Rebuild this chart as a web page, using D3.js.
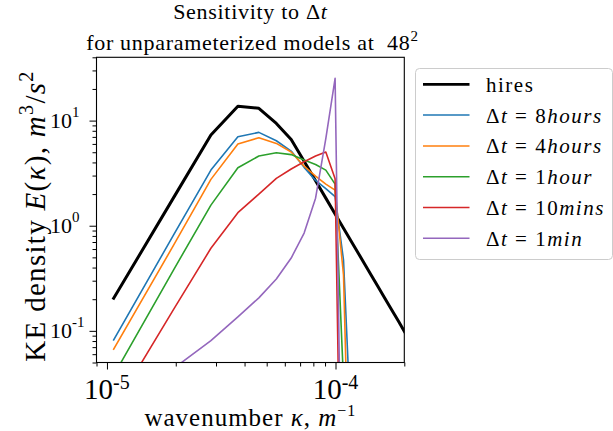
<!DOCTYPE html>
<html>
<head>
<meta charset="utf-8">
<script src="https://cdn.jsdelivr.net/npm/d3@7"></script>
<style>
  html, body { margin: 0; padding: 0; background: #fff; }
  svg { display: block; font-family: "Liberation Serif", "DejaVu Serif", serif; }
</style>
</head>
<body>
<svg id="chart" width="613" height="431"></svg>
<script>
// Isotropic wavenumber bins (1/m)
const kappa = [1.07e-5, 1.96e-5, 2.85e-5, 3.74e-5, 4.62e-5, 5.51e-5, 6.40e-5, 7.29e-5,
               8.18e-5, 9.07e-5, 9.96e-5, 1.084e-4, 1.173e-4, 1.262e-4, 1.351e-4, 1.440e-4,
               1.529e-4, 1.617e-4, 1.706e-4, 1.795e-4, 1.884e-4, 1.973e-4, 2.062e-4];

// KE spectra E(kappa), m^3/s^2
const hires  = [0.204, 1.86, 7.28, 13.7, 13.1, 9.4, 6.6, 4.1, 2.68, 1.83, 1.29, 0.946,
                0.708, 0.542, 0.421, 0.333, 0.267, 0.217, 0.178, 0.148, 0.124, 0.104, 0.0885];
const dt8h   = [0.0819, 0.823, 3.38, 7.02, 7.73, 6.43, 5.13, 3.59, 2.70, 2.25, 1.89, 0.472, 0.0097];
const dt4h   = [0.0668, 0.657, 2.76, 5.98, 6.87, 6.07, 5.02, 3.69, 2.97, 2.49, 2.18, 0.34, 0.0005];
const dt1h   = [0.0377, 0.383, 1.57, 3.56, 4.60, 4.94, 4.75, 4.21, 3.82, 3.38, 2.49, 0.0334, 0.001];
const dt10m  = [0.0181, 0.161, 0.610, 1.33, 2.0, 2.82, 3.46, 4.06, 4.60, 5.02, 2.80, 0.00004, 0.000001];
const dt1m   = [0.014, 0.044, 0.0807, 0.136, 0.206, 0.311, 0.493, 0.852, 1.83, 6.74, 25.2, 0.0001, 0.000001];

// Legend labels: number | italic unit
const seriesNames = ["hires", "8|hours", "4|hours", "1|hour", "10|mins", "1|min"];
const seriesColors = ["#000000", "#1f77b4", "#ff7f0e", "#2ca02c", "#d62728", "#9467bd"];
const seriesWidths = [3, 1.6, 1.6, 1.6, 1.6, 1.6];
const seriesData = [hires, dt8h, dt4h, dt1h, dt10m, dt1m];

// Tick values
const xMajor = [1e-5, 1e-4];
const xMajorExp = ["-5", "-4"];
const xMinor = [9e-6, 2e-5, 3e-5, 4e-5, 5e-5, 6e-5, 7e-5, 8e-5, 9e-5, 2e-4];
const yMajor = [0.1, 1, 10];
const yMajorExp = ["-1", "0", "1"];
const yMinor = [0.05, 0.06, 0.07, 0.08, 0.09, 0.2, 0.3, 0.4, 0.5, 0.6, 0.7, 0.8, 0.9,
                2, 3, 4, 5, 6, 7, 8, 9, 20, 30, 40];

const svg = d3.select("#chart");
const pLeft = 96.5, pRight = 404.3, pTop = 57.3, pBottom = 362.5;

const x = d3.scaleLog().domain([9e-6, 2e-4]).range([pLeft, pRight]);
const y = d3.scaleLog().domain([0.05, 40]).range([pBottom, pTop]);

svg.append("rect").attr("width", 613).attr("height", 431).attr("fill", "#fff");

svg.append("defs").append("clipPath").attr("id", "plotclip")
  .append("rect").attr("x", pLeft).attr("y", pTop)
  .attr("width", pRight - pLeft).attr("height", pBottom - pTop);

// Spectra
const line = d3.line().x(d => x(d[0])).y(d => y(d[1]));
const plot = svg.append("g").attr("clip-path", "url(#plotclip)");
seriesData.forEach((vals, i) => {
  const pts = vals.map((v, j) => [kappa[j], v]);
  plot.append("path")
    .attr("d", line(pts))
    .attr("fill", "none")
    .attr("stroke", seriesColors[i])
    .attr("stroke-width", seriesWidths[i])
    .attr("stroke-linejoin", "round")
    .attr("stroke-linecap", "square");
});

// Axes (ticks only; labels drawn separately with superscripts)
function addAxis(axisGen, transform) {
  const g = svg.append("g").attr("transform", transform).call(axisGen);
  g.select(".domain").remove();
  g.selectAll("line").attr("stroke", "#000").attr("stroke-width", 1);
  g.selectAll("text").remove();
  return g;
}
addAxis(d3.axisBottom(x).tickValues(xMajor).tickSize(7).tickFormat(""), `translate(0,${pBottom})`);
addAxis(d3.axisBottom(x).tickValues(xMinor).tickSize(4).tickFormat(""), `translate(0,${pBottom})`);
addAxis(d3.axisLeft(y).tickValues(yMajor).tickSize(7).tickFormat(""), `translate(${pLeft},0)`);
addAxis(d3.axisLeft(y).tickValues(yMinor).tickSize(4).tickFormat(""), `translate(${pLeft},0)`);

// Frame
svg.append("rect")
  .attr("x", pLeft).attr("y", pTop)
  .attr("width", pRight - pLeft).attr("height", pBottom - pTop)
  .attr("fill", "none").attr("stroke", "#000").attr("stroke-width", 1.1);

// Tick labels
xMajor.forEach((v, i) => {
  const t = svg.append("text")
    .attr("x", x(v)).attr("y", 399)
    .attr("text-anchor", "middle")
    .attr("font-size", 29);
  t.append("tspan").text("10");
  t.append("tspan").attr("dy", -10).attr("font-size", 20).text(xMajorExp[i]);
});
yMajor.forEach((v, i) => {
  const t = svg.append("text")
    .attr("x", 50).attr("y", y(v) + 7.5)
    .attr("font-size", 22);
  t.append("tspan").text("10");
  t.append("tspan").attr("dy", -11.5).attr("font-size", 15).text(yMajorExp[i]);
});

// Axis labels
const xl = svg.append("text")
  .attr("x", (pLeft + pRight) / 2).attr("y", 426)
  .attr("text-anchor", "middle").attr("font-size", 25)
  .attr("letter-spacing", 1);
xl.append("tspan").text("wavenumber ");
xl.append("tspan").attr("font-style", "italic").text("κ");
xl.append("tspan").text(", ");
xl.append("tspan").attr("font-style", "italic").text("m");
xl.append("tspan").attr("dy", -10).attr("font-size", 16).text("−1");

const yl = svg.append("text")
  .attr("transform", `translate(45,216) rotate(-90)`)
  .attr("text-anchor", "middle").attr("font-size", 29)
  .attr("letter-spacing", 1.3);
yl.append("tspan").text("KE density ");
yl.append("tspan").attr("font-style", "italic").text("E");
yl.append("tspan").text("(");
yl.append("tspan").attr("font-style", "italic").text("κ");
yl.append("tspan").text("), ");
yl.append("tspan").attr("font-style", "italic").text("m");
yl.append("tspan").attr("dy", -12).attr("font-size", 20).text("3");
yl.append("tspan").attr("dy", 12).text("/");
yl.append("tspan").attr("font-style", "italic").text("s");
yl.append("tspan").attr("dy", -12).attr("font-size", 20).text("2");

// Title
const t1 = svg.append("text")
  .attr("x", (pLeft + pRight) / 2).attr("y", 19)
  .attr("text-anchor", "middle").attr("font-size", 22)
  .attr("letter-spacing", 0.7);
t1.append("tspan").text("Sensitivity to Δ");
t1.append("tspan").attr("font-style", "italic").text("t");
const t2 = svg.append("text")
  .attr("x", (pLeft + pRight) / 2 + 2).attr("y", 50)
  .attr("text-anchor", "middle").attr("font-size", 22)
  .attr("letter-spacing", 0.7);
t2.append("tspan").text("for unparameterized models at\u00a0\u00a048");
t2.append("tspan").attr("dy", -9).attr("font-size", 15).text("2");

// Legend
const lg = svg.append("g");
lg.append("rect")
  .attr("x", 415.5).attr("y", 68.5).attr("width", 197).attr("height", 191)
  .attr("rx", 4).attr("fill", "#fff").attr("fill-opacity", 0.8)
  .attr("stroke", "#cccccc").attr("stroke-width", 1);
seriesNames.forEach((name, i) => {
  const ly = 84.3 + i * 30.8;
  lg.append("line")
    .attr("x1", 423).attr("x2", 469.5).attr("y1", ly).attr("y2", ly)
    .attr("stroke", seriesColors[i]).attr("stroke-width", i === 0 ? 2.8 : 1.5);
  const t = lg.append("text").attr("x", 486).attr("y", ly + 7.5)
    .attr("font-size", 21).attr("letter-spacing", 1.5);
  if (i === 0) {
    t.text(name);
  } else {
    const [num, unit] = name.split("|");
    t.append("tspan").text("Δ");
    t.append("tspan").attr("font-style", "italic").text("t");
    t.append("tspan").text(" = " + num);
    t.append("tspan").attr("font-style", "italic").text(unit);
  }
});
</script>
</body>
</html>
